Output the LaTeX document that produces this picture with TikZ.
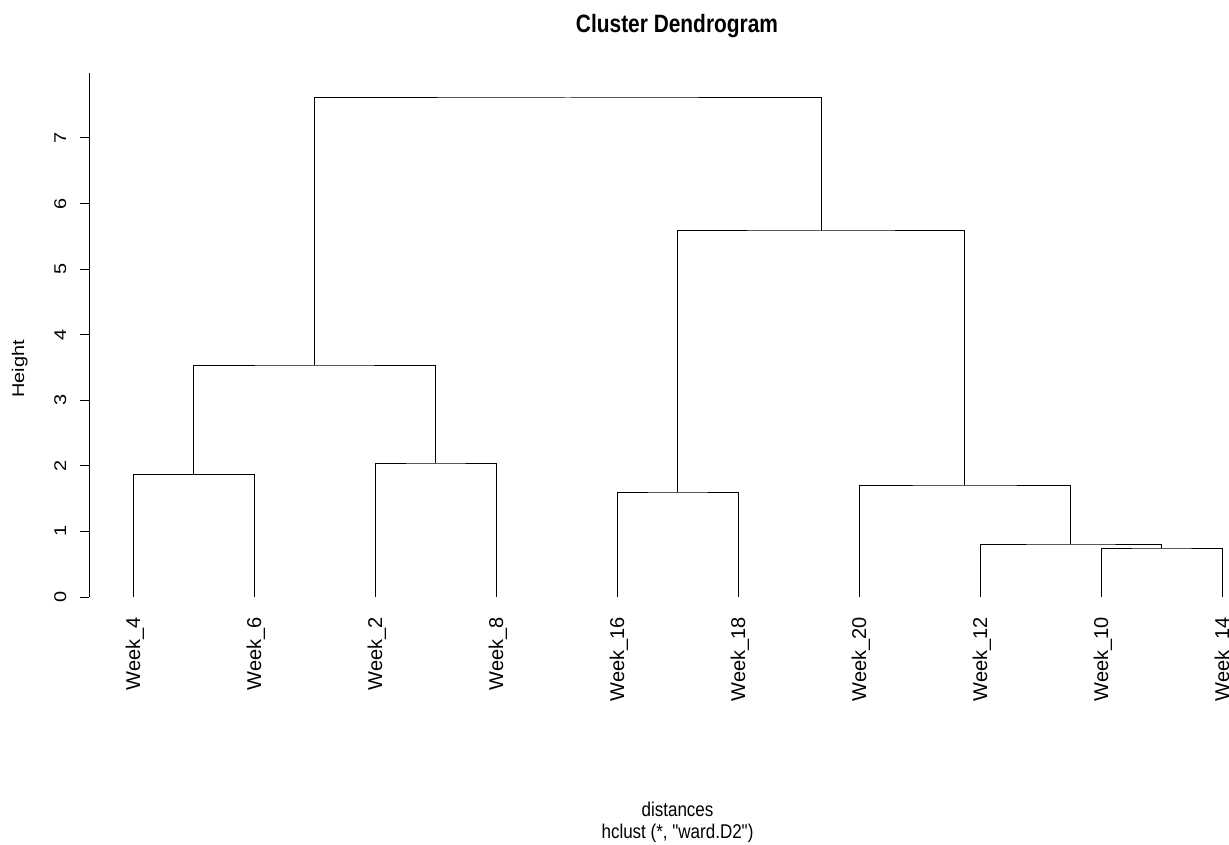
\documentclass[tikz,border=0pt]{standalone}
\usepackage{fontspec}
\setmainfont{Liberation Sans}
\newfontfamily\rawsans{Liberation Sans}
\begin{document}
\begin{tikzpicture}[x=1pt,y=-1pt,
  link/.style={draw=black, line width=1pt},
  axisline/.style={draw=black, line width=1pt},
  leaflabel/.style={rotate=90, anchor=base east, inner sep=0pt, font=\fontsize{20}{24}\selectfont},
  ticklabel/.style={rotate=90, anchor=base, inner sep=0pt, font=\fontsize{17}{20}\selectfont},
  axislabel/.style={anchor=base, inner sep=0pt, font=\fontsize{17}{20}\selectfont}]
\clip (0,0) rectangle (1229,845);
\fill[white] (0,0) rectangle (1229,845);

% title
\node[anchor=base, inner sep=0pt] (title) at (677,33)
  {\scalebox{1}[1.2]{\fontsize{20.9}{25}\selectfont\bfseries Cluster Dendrogram}};

% y axis
\draw[axisline] (89,73) -- (89,597);
\foreach \k/\yy in {0/597,1/531.4,2/465.9,3/400.3,4/334.7,5/269.2,6/203.6,7/138.0}{
  \draw[axisline] (80,\yy) -- (89,\yy);
  \node[ticklabel] (tick\k) at (66,\yy) {\scalebox{1.17}[1]{\k}};
}
\node[ticklabel] (ylab) at (24,369) {\scalebox{1.17}[1]{Height}};

% leaves
\coordinate (w4)  at (133,597);
\coordinate (w6)  at (254,597);
\coordinate (w2)  at (375,597);
\coordinate (w8)  at (496,597);
\coordinate (w16) at (617,597);
\coordinate (w18) at (738,597);
\coordinate (w20) at (859,597);
\coordinate (w12) at (980,597);
\coordinate (w10) at (1101,597);
\coordinate (w14) at (1222,597);

% merges
\coordinate (m46)   at (193.5,474.5);
\coordinate (m28)   at (435.5,463);
\coordinate (mL)    at (314.5,365);
\coordinate (m1618) at (677.5,492);
\coordinate (m1014) at (1161.5,548);
\coordinate (m12)   at (1070.75,544);
\coordinate (m20)   at (964.875,485);
\coordinate (mR)    at (821.19,231);
\coordinate (root)  at (567.84,98);

\draw[link] (w4) |- (m46) -| (w6);
\draw[link] (w2) |- (m28) -| (w8);
\draw[link] (m46) |- (mL) -| (m28);
\draw[link] (w16) |- (m1618) -| (w18);
\draw[link] (w10) |- (m1014) -| (w14);
\draw[link] (w12) |- (m12) -| (m1014);
\draw[link] (w20) |- (m20) -| (m12);
\draw[link] (m1618) |- (mR) -| (m20);
\draw[link] (mL) |- (root) -| (mR);

% leaf labels
\node[leaflabel] (l4)  at (140,617)  {Week\_4};
\node[leaflabel] (l6)  at (261,617)  {Week\_6};
\node[leaflabel] (l2)  at (382,617)  {Week\_2};
\node[leaflabel] (l8)  at (503,617)  {Week\_8};
\node[leaflabel] (l16) at (624,617)  {Week\_16};
\node[leaflabel] (l18) at (745,617)  {Week\_18};
\node[leaflabel] (l20) at (866,617)  {Week\_20};
\node[leaflabel] (l12) at (987,617)  {Week\_12};
\node[leaflabel] (l10) at (1108,617) {Week\_10};
\node[leaflabel] (l14) at (1229,617) {Week\_14};

% x labels
\node[axislabel] (xlab) at (677.5,816) {\scalebox{1}[1.17]{distances}};
\node[axislabel] (sub) at (677.5,838) {\scalebox{1}[1.17]{\rawsans hclust (*, "ward.D2")}};
\end{tikzpicture}
\end{document}
